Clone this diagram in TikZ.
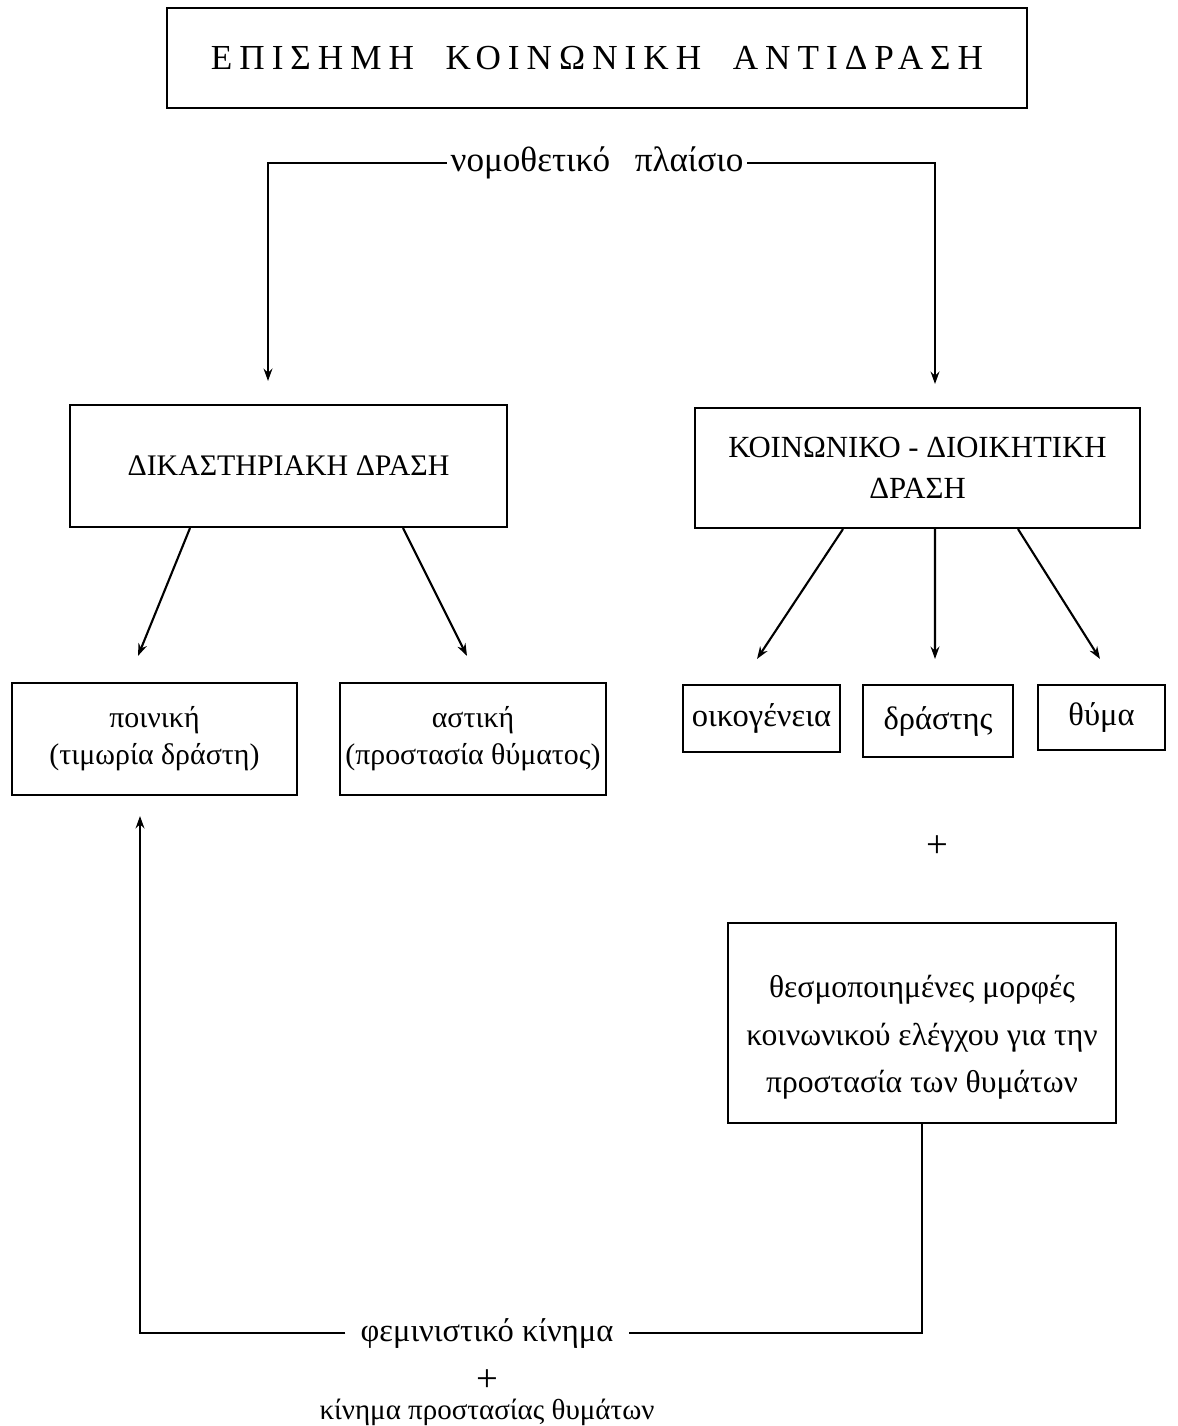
\documentclass[tikz,border=0pt]{standalone}
\usepackage{fontspec}
\setmainfont{Liberation Serif}
\newfontfamily\titlefont[LetterSpace=20]{Liberation Serif}
\usetikzlibrary{arrows.meta}
\usetikzlibrary{positioning}

\tikzset{
  box/.style={draw, line width=1.2pt, inner sep=0pt, align=center},
  arr/.style={-{Stealth[length=7pt,width=5pt]}, line width=1.2pt},
  txt/.style={font=\fontsize{17}{21}\selectfont},
  plus/.style={font=\fontsize{22}{24}\selectfont, inner sep=0pt},
}

\begin{document}
\begin{tikzpicture}[x=0.02cm, y=-0.02cm, txt]
  \useasboundingbox (0,0) rectangle (1177,1426);

  \node[box, minimum width=17.2cm, minimum height=2cm] (title) at (597,58)
    {\titlefont\fontsize{20}{24}\selectfont ΕΠΙΣΗΜΗ\hspace{0.9em}ΚΟΙΝΩΝΙΚΗ\hspace{0.9em}ΑΝΤΙΔΡΑΣΗ};
  \node[inner sep=2pt, font=\fontsize{20}{24}\selectfont] (law) at (597,163)
    {νομοθετικό\hspace{0.7em}πλαίσιο};

  \node[box, minimum width=8.74cm, minimum height=2.44cm] (court) at (288.5,466)
    {ΔΙΚΑΣΤΗΡΙΑΚΗ ΔΡΑΣΗ};
  \node[box, minimum width=8.9cm, minimum height=2.4cm,
    font=\fontsize{17.5}{23}\selectfont] (admin) at (917.5,468)
    {ΚΟΙΝΩΝΙΚΟ - ΔΙΟΙΚΗΤΙΚΗ\\ΔΡΑΣΗ};

  \node[box, minimum width=5.7cm, minimum height=2.24cm] (penal) at (154.5,739)
    {ποινική\\(τιμωρία δράστη)};
  \node[box, minimum width=5.32cm, minimum height=2.24cm] (civil) at (473,739)
    {αστική\\(προστασία θύματος)};

  \node[box, minimum width=3.14cm, minimum height=1.34cm,
    font=\fontsize{18.5}{22}\selectfont] (family) at (761.5,718.5) {οικογένεια};
  \node[box, minimum width=3cm, minimum height=1.44cm,
    font=\fontsize{18.5}{22}\selectfont] (offender) at (938,721) {δράστης};
  \node[box, minimum width=2.54cm, minimum height=1.3cm,
    font=\fontsize{18.5}{22}\selectfont] (victim) at (1101.5,717.5) {θύμα};

  \node[plus] (plusA) at (937,847) {+};
  \node[box, minimum width=7.76cm, minimum height=4cm,
    font=\fontsize{18}{27}\selectfont] (inst) at (922,1023)
    {\rule{0pt}{29pt}θεσμοποιημένες μορφές\\κοινωνικού ελέγχου για την\\προστασία των θυμάτων};

  \node[inner xsep=0.3cm, font=\fontsize{18.5}{22}\selectfont] (femin) at (487,1333)
    {φεμινιστικό κίνημα};
  \node[plus, below=0.3cm of femin] (plusB) {+};
  \node[below=0.02cm of plusB, font=\fontsize{16.5}{20}\selectfont] (vmove)
    {κίνημα προστασίας θυμάτων};

  % legal frame
  \draw[arr, shorten >=0.46cm] (law.west) -| ([xshift=-0.41cm]court.north);
  \draw[arr, shorten >=0.46cm] (law.east) -| ([xshift=0.35cm]admin.north);

  \draw[arr] ([xshift=-1.97cm]court.south) -- ([xshift=-0.33cm,yshift=0.52cm]penal.north);
  \draw[arr] ([xshift=2.29cm]court.south) -- ([xshift=-0.12cm,yshift=0.52cm]civil.north);

  \draw[arr] ([xshift=-1.49cm]admin.south) -- ([xshift=-0.09cm,yshift=0.5cm]family.north);
  \draw[arr] ([xshift=0.35cm]admin.south) -- ([xshift=-0.06cm,yshift=0.5cm]offender.north);
  \draw[arr] ([xshift=2.01cm]admin.south) -- ([xshift=-0.03cm,yshift=0.5cm]victim.north);

  % movements
  \draw[line width=1.2pt] (inst.south) |- (femin.east);
  \draw[arr, shorten >=0.4cm] (femin.west) -| ([xshift=-0.29cm]penal.south);
\end{tikzpicture}
\end{document}
